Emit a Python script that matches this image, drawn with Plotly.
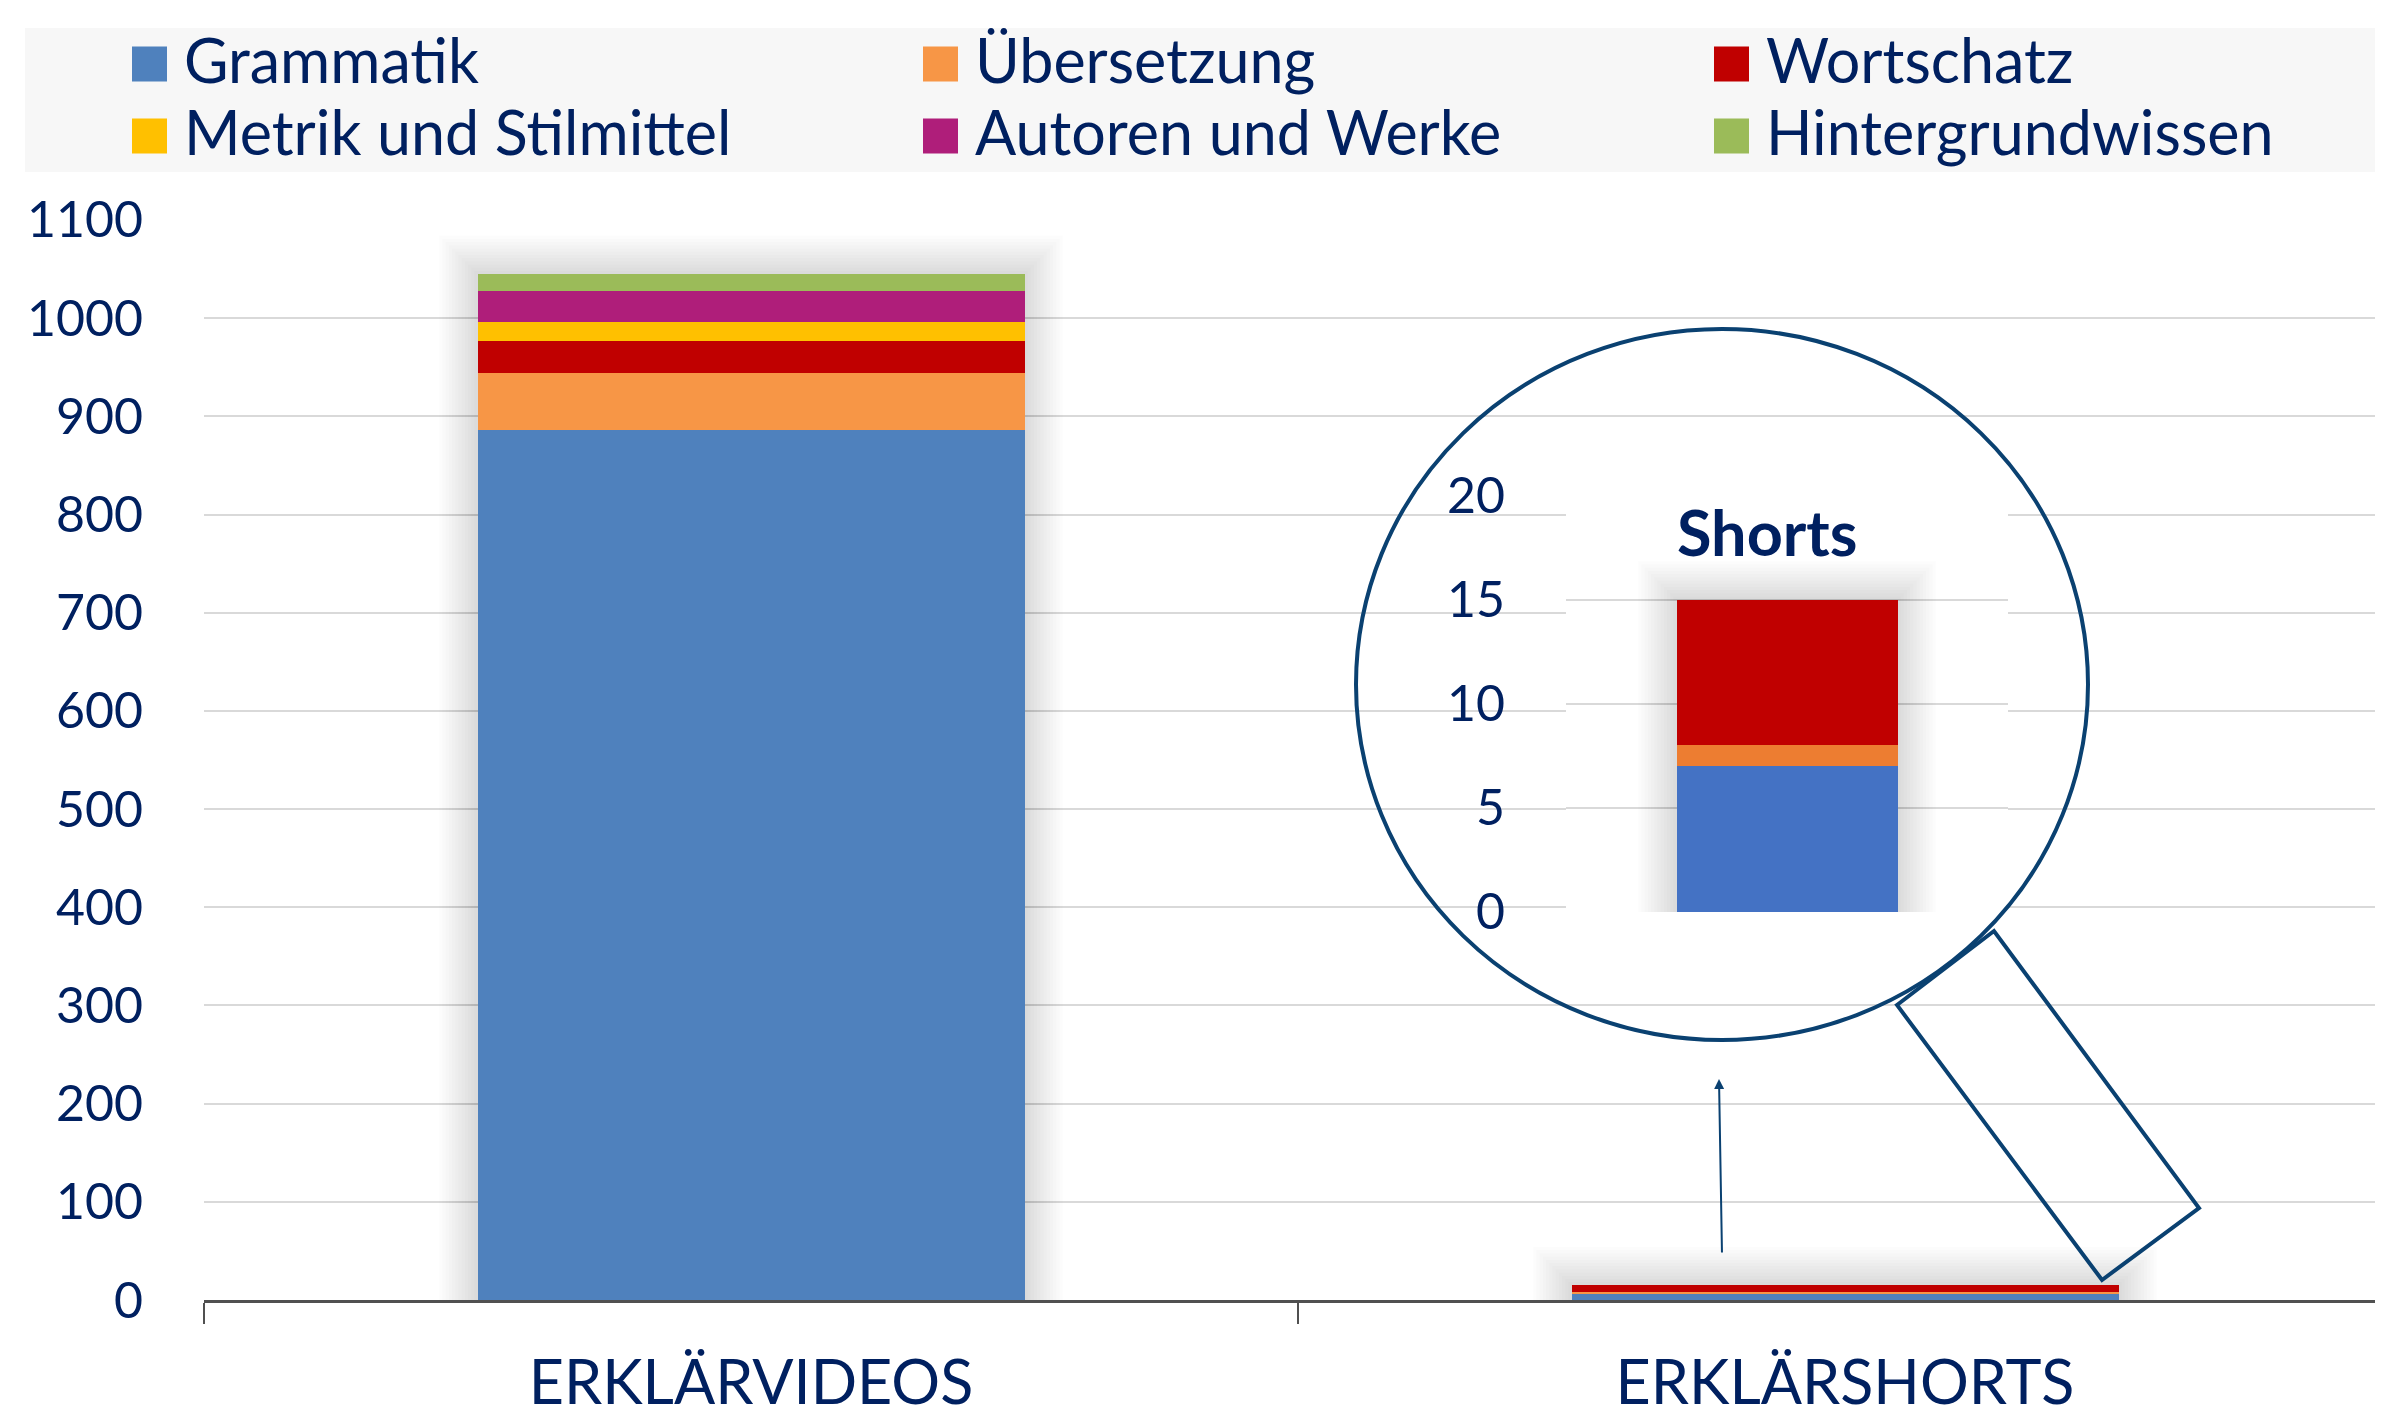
import plotly.graph_objects as go

# ---------------- data ----------------
categories = ["ERKLÄRVIDEOS", "ERKLÄRSHORTS"]
series_names = ["Grammatik", "Übersetzung", "Wortschatz",
                "Metrik und Stilmittel", "Autoren und Werke", "Hintergrundwissen"]
videos_values = [886, 58, 33, 19, 32, 17]
shorts_values = [7, 1, 7, 0, 0, 0]
series_colors = ["#4F81BD", "#F79646", "#C00000", "#FFC000", "#AF1E7A", "#9BBB59"]

inset_category = [""]
inset_names = ["Grammatik", "Übersetzung", "Wortschatz"]
inset_values = [7, 1, 7]
inset_colors = ["#4472C4", "#ED7D31", "#C00000"]

y_ticks = [0, 100, 200, 300, 400, 500, 600, 700, 800, 900, 1000, 1100]
inset_ticks = [0, 5, 10, 15, 20]

# ---------------- geometry (screen pixels; page body has an 8px margin) ----------------
W, H = 2383, 1421
OFF = 8
Y_MAX = 1101
UNIT = 1080 / 1100            # px per value unit on the main y axis
SCREEN_LEFT = 204
SCREEN_ZERO = 1300
SCREEN_TOP = SCREEN_ZERO - Y_MAX * UNIT
L = SCREEN_LEFT - OFF
T = SCREEN_TOP - OFF
B = H - (SCREEN_ZERO - OFF)
PW = W - L
PH = H - T - B
CAT_W = 1094                  # px per category
NAVY = "#002060"
FONT = "Lato"
LENS = "#0A4171"


def px(x):
    return (x - SCREEN_LEFT) / PW


def py(y):
    return (SCREEN_ZERO - y) / PH


fig = go.Figure()

for name, v, s, c in zip(series_names, videos_values, shorts_values, series_colors):
    fig.add_trace(go.Bar(x=categories, y=[v, s], name=name, marker_color=c,
                         marker_line_width=0, showlegend=False))

for name, v, c in zip(inset_names, inset_values, inset_colors):
    fig.add_trace(go.Bar(x=inset_category, y=[v], name=name, marker_color=c,
                         marker_line_width=0, showlegend=False,
                         xaxis="x2", yaxis="y2"))

shapes = []
annotations = []

# soft shadow around the bars (derived from the stacked totals)
N_SH, STEP, ALPHA = 12, 3.2, 0.011
totals = [sum(videos_values), sum(shorts_values)]
for i, tot in enumerate(totals):
    for k in range(1, N_SH + 1):
        pad = STEP * k
        shapes.append(dict(type="rect", xref="x", yref="y", layer="between",
                           x0=i - 0.25 - pad / CAT_W, x1=i + 0.25 + pad / CAT_W,
                           y0=0, y1=tot + pad / UNIT,
                           fillcolor=f"rgba(0,0,0,{ALPHA})", line_width=0))
inset_total = sum(inset_values)
for k in range(1, N_SH + 1):
    pad = STEP * k
    shapes.append(dict(type="rect", xref="x2", yref="y2", layer="between",
                       x0=-0.25 - pad / 442, x1=0.25 + pad / 442,
                       y0=0, y1=inset_total + pad * 5 / 104,
                       fillcolor=f"rgba(0,0,0,{ALPHA})", line_width=0))

# legend background
shapes.append(dict(type="rect", xref="paper", yref="paper",
                   x0=px(25), x1=px(W + OFF), y0=py(172), y1=py(28),
                   fillcolor="#F7F7F7", line_width=0, layer="below"))
col_x = [132, 923, 1714]
row_y = [64, 136]
for i, (name, c) in enumerate(zip(series_names, series_colors)):
    r, k = divmod(i, 3)
    x0 = col_x[k]
    yc = row_y[r]
    shapes.append(dict(type="rect", xref="paper", yref="paper",
                       x0=px(x0), x1=px(x0 + 35), y0=py(yc + 17.5), y1=py(yc - 17.5),
                       fillcolor=c, line_width=0))
    annotations.append(dict(text=name, xref="paper", yref="paper",
                            x=px(x0 + 50), y=py(yc - 4), xanchor="left", yanchor="middle",
                            showarrow=False, font=dict(family=FONT, size=61, color=NAVY)))

# magnifier lens
shapes.append(dict(type="circle", xref="paper", yref="paper",
                   x0=px(1356), x1=px(2088), y0=py(1040), y1=py(329),
                   line=dict(color=LENS, width=4), fillcolor="rgba(0,0,0,0)"))
# handle
hpts = [(1897, 1005), (1994, 931), (2199, 1208), (2102, 1280)]
path = "M " + " L ".join(f"{px(a):.5f},{py(b):.5f}" for a, b in hpts) + " Z"
shapes.append(dict(type="path", xref="paper", yref="paper", path=path,
                   line=dict(color=LENS, width=4)))

# arrow
annotations.append(dict(xref="paper", yref="paper", x=px(1719), y=py(1079),
                        ax=3, ay=175, showarrow=True, arrowhead=2, arrowsize=1,
                        arrowwidth=2, arrowcolor=LENS, text=""))

# inset title
annotations.append(dict(text="<b>Shorts</b>", xref="paper", yref="paper",
                        x=px(1767), y=py(532), xanchor="center", yanchor="middle",
                        showarrow=False, font=dict(family=FONT, size=63, color=NAVY)))

fig.update_layout(
    width=W, height=H,
    margin=dict(l=L, r=0, t=T, b=B, pad=0),
    paper_bgcolor="white", plot_bgcolor="white",
    barmode="stack", bargap=0.5,
    font=dict(family=FONT, color=NAVY),
    shapes=shapes, annotations=annotations,
    xaxis=dict(type="category", range=[-0.5, -0.5 + PW / CAT_W],
               showgrid=False, showline=True, linecolor="#505050", linewidth=3,
               ticks="outside", tickson="boundaries", ticklen=21, tickwidth=2,
               tickcolor="#505050", ticklabelstandoff=28,
               tickfont=dict(family=FONT, size=61, color=NAVY)),
    yaxis=dict(range=[0, Y_MAX], tickvals=y_ticks, showgrid=True,
               gridcolor="#D9D9D9", gridwidth=2, zeroline=False, showline=False,
               ticklabelstandoff=60,
               tickfont=dict(family=FONT, size=50, color=NAVY)),
    xaxis2=dict(domain=[px(1566), px(2008)], anchor="y2", type="category",
                range=[-0.5, 0.5], showgrid=False, showline=False,
                showticklabels=False, ticks=""),
    yaxis2=dict(domain=[py(912), py(495.5)], anchor="x2", range=[0, 20],
                tickvals=inset_ticks, showgrid=True, gridcolor="#D9D9D9",
                gridwidth=2, zeroline=False, showline=False,
                ticklabelstandoff=60,
                tickfont=dict(family=FONT, size=50, color=NAVY)),
)

fig.write_html("out.html")
